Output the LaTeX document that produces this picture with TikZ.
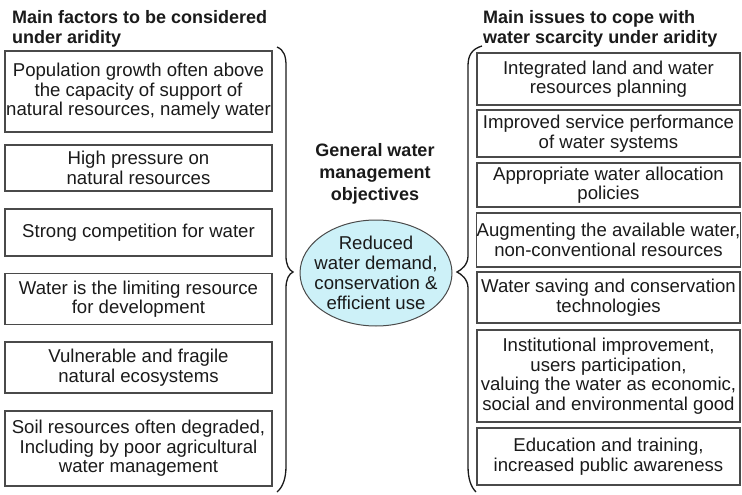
\documentclass[tikz,border=0pt]{standalone}
\usepackage{fontspec}
\setmainfont{Liberation Sans}
\usetikzlibrary{shapes.geometric}
\definecolor{frame}{HTML}{4A4A4A}
\definecolor{ink}{HTML}{1A1A1A}
\definecolor{aqua}{HTML}{CDF1F8}
\tikzset{
  factor/.style={draw=frame, line width=1.2pt, text=ink, align=center, minimum width=267pt, inner sep=0pt, font=\fontsize{18.6}{19.5}\selectfont},
  issue/.style={factor, minimum width=263pt},
  head/.style={text=ink, align=left, anchor=north west, inner sep=0pt, font=\fontsize{18}{20.5}\selectfont\bfseries},
  goal/.style={ellipse, draw=frame, line width=1pt, fill=aqua, text=ink, align=center, minimum width=152pt, minimum height=106pt, inner xsep=-16pt, inner ysep=-14pt, font=\fontsize{18.6}{20}\selectfont},
  brace/.style={draw=ink, line width=1.3pt}
}

\begin{document}
\begin{tikzpicture}[x=1pt,y=-1pt]
  \useasboundingbox (0,0) rectangle (742,495);

  \node[head] (lefthead) at (12,10) {Main factors to be considered\\under aridity};
  \node[head] (righthead) at (483,10) {Main issues to cope with\\water scarcity under aridity};

  % factors under aridity
  \node[factor, minimum height=81pt] (f1) at (138.5,91.5) {Population growth often above\\the capacity of support of\\natural resources, namely water};
  \node[factor, minimum height=46pt] (f2) at (138.5,168) {High pressure on\\natural resources};
  \node[factor, minimum height=47pt] (f3) at (138.5,232.5) {Strong competition for water};
  \node[factor, minimum height=51pt] (f4) at (138.5,299) {Water is the limiting resource\\for development};
  \node[factor, minimum height=51pt] (f5) at (138.5,367.5) {Vulnerable and fragile\\natural ecosystems};
  \node[factor, minimum height=75pt] (f6) at (138.5,448.5) {Soil resources often degraded,\\Including by poor agricultural\\water management};

  % issues to cope with
  \node[issue, minimum height=52pt] (i1) at (608.5,79) {Integrated land and water\\resources planning};
  \node[issue, minimum height=47pt] (i2) at (608.5,133.5) {Improved service performance\\of water systems};
  \node[issue, minimum height=44pt] (i3) at (608.5,185) {Appropriate water allocation\\policies};
  \node[issue, minimum height=54pt] (i4) at (608.5,240) {Augmenting the available water,\\non-conventional resources};
  \node[issue, minimum height=51pt] (i5) at (608.5,297.5) {Water saving and conservation\\technologies};
  \node[issue, minimum height=92pt] (i6) at (608.5,376) {Institutional improvement,\\users participation,\\valuing the water as economic,\\social and environmental good};
  \node[issue, minimum height=57pt] (i7) at (608.5,456.5) {Education and training,\\increased public awareness};

  \node[text=ink, align=center, inner sep=0pt, font=\fontsize{18}{22}\selectfont\bfseries] (objhead) at (375,174) {General water\\management\\objectives};
  \node[goal] (goal) at (376,273) {Reduced\\water demand,\\conservation \&\\efficient use};

  % braces
  \draw[brace] (277,47) .. controls (284,50) and (286,56) .. (286,66) -- (286,256)
    .. controls (286,265) and (289,270) .. (293,272)
    .. controls (289,274) and (286,279) .. (286,288) -- (286,466)
    .. controls (286,478) and (283,487) .. (277,492);
  \draw[brace] (482,46) .. controls (472,49) and (468,55) .. (468,66) -- (468,256)
    .. controls (468,265) and (461,270) .. (457,272)
    .. controls (461,274) and (468,279) .. (468,288) -- (468,466)
    .. controls (468,479) and (471,487) .. (476,492);
\end{tikzpicture}
\end{document}
